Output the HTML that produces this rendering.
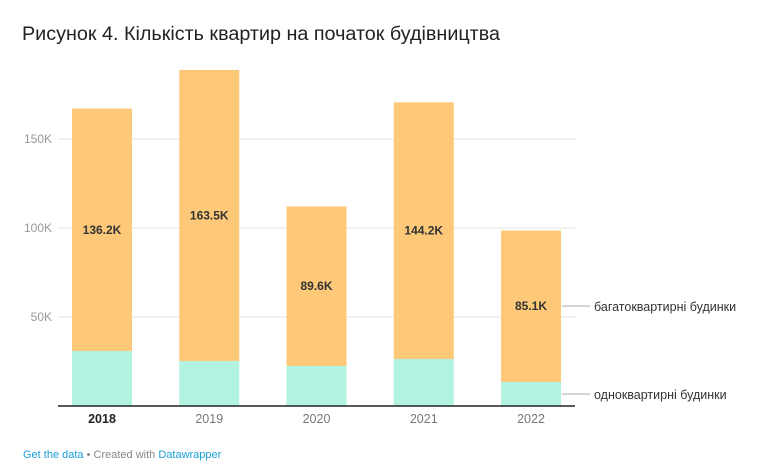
<!DOCTYPE html>
<html><head><meta charset="utf-8"><style>
body{margin:0;background:#fff;font-family:"Liberation Sans",sans-serif;}
svg text{font-family:"Liberation Sans",sans-serif;}
</style></head><body>
<svg width="774" height="470" xmlns="http://www.w3.org/2000/svg">
<text x="22" y="40" font-size="19" fill="#222" textLength="478" lengthAdjust="spacingAndGlyphs">Рисунок 4. Кількість квартир на початок будівництва</text>
<g id="grid"></g>
<g id="bars"></g>
<line x1="58" x2="575" y1="406" y2="406" stroke="#222" stroke-width="1.5"/>
<line x1="562" x2="590" y1="306" y2="306" stroke="#aaa"/>
<text x="594" y="311" font-size="12.5" fill="#333">багатоквартирні будинки</text>
<line x1="562" x2="590" y1="394" y2="394" stroke="#aaa"/>
<text x="594" y="399" font-size="12.5" fill="#333">одноквартирні будинки</text>
<text x="23" y="458" font-size="11" fill="#888"><tspan fill="#1aa0d8">Get the data</tspan> • Created with <tspan fill="#1aa0d8">Datawrapper</tspan></text>
</svg>
<script>
const categories=["2018","2019","2020","2021","2022"];
const singleFamily=[30.9,25.3,22.5,26.4,13.5];
const multiFamily=[136.2,163.5,89.6,144.2,85.1];
const multiLabels=["136.2K","163.5K","89.6K","144.2K","85.1K"];
const yTicks=[50,100,150];
const yTickLabels=["50K","100K","150K"];
const NS="http://www.w3.org/2000/svg";
const y=v=>406-v*1.78;
const x=i=>72+i*107.25;
const bw=60;
function mk(t,a,p){const e=document.createElementNS(NS,t);for(const k in a)e.setAttribute(k,a[k]);p.appendChild(e);return e;}
const grid=document.getElementById('grid'),bars=document.getElementById('bars');
yTicks.forEach((v,i)=>{
 const l=mk('line',{x1:58,x2:575,y1:y(v),y2:y(v),stroke:'#e3e3e3'},grid);
 
 
 const t=mk('text',{x:52,y:y(v)+4,'font-size':12,fill:'#999','text-anchor':'end'},grid);
 t.textContent=yTickLabels[i];
 
 
});
categories.forEach((c,i)=>{
 const s=mk('rect',{x:x(i),width:bw,y:y(singleFamily[i]),height:y(0)-y(singleFamily[i]),fill:'#b2f2e0'},bars);
 
 
 const top=singleFamily[i]+multiFamily[i];
 const m=mk('rect',{x:x(i),width:bw,y:y(top),height:y(singleFamily[i])-y(top),fill:'#fdc978'},bars);
 
 
 const vl=mk('text',{x:x(i)+bw/2,y:(y(top)+y(singleFamily[i]))/2+4,'font-size':12,'font-weight':'bold',fill:'#333','text-anchor':'middle'},bars);
 vl.textContent=multiLabels[i];
 
 
 const xl=mk('text',{x:x(i)+bw/2,y:423,'font-size':12.5,fill:i==0?'#222':'#777','font-weight':i==0?'bold':'normal','text-anchor':'middle'},bars);
 xl.textContent=c;
 
 
});
</script>
</body></html>
